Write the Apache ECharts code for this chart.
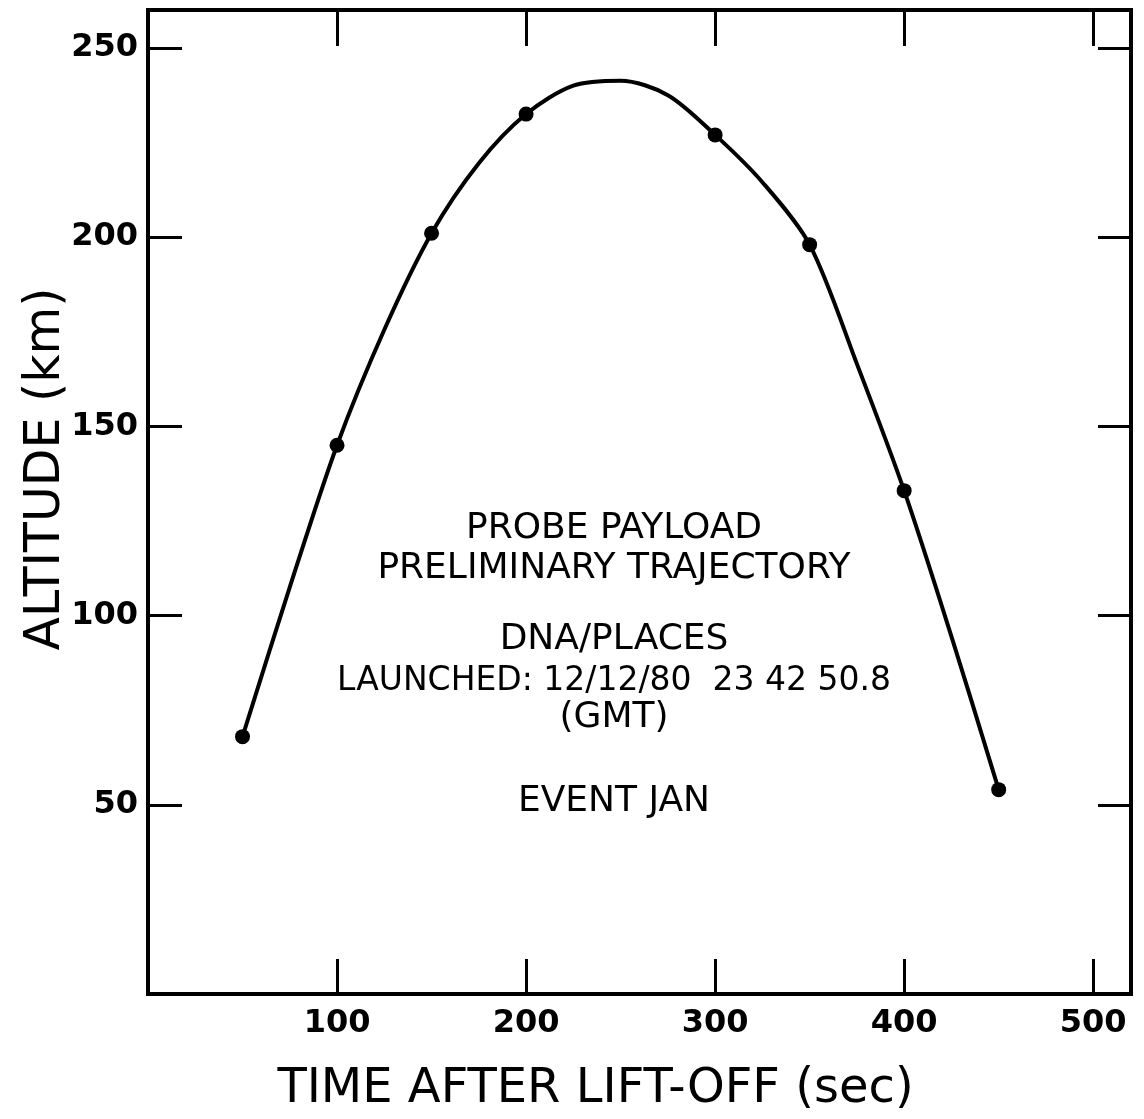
<!DOCTYPE html>
<html>
<head>
<meta charset="utf-8">
<script src="https://cdn.jsdelivr.net/npm/echarts@6/dist/echarts.min.js"></script>
<style>
  html, body { margin: 0; padding: 0; background: #fff; }
  #main { width: 1144px; height: 1119px; }
</style>
</head>
<body>
<div id="main"></div>
<script>
// measured points (sec, km)
const pointTimes = [50, 100, 150, 200, 300, 350, 400, 450];
const pointAltitudes = [68, 145, 201, 232.5, 227, 198, 133, 54];

// drawn trajectory curve
const curveTimes = [50, 75, 100, 125, 150, 175, 200, 225, 250, 275, 300, 325, 350, 375, 400, 425, 450];
const curveAltitudes = [68, 107.5, 145, 175.5, 201, 219.5, 232.5, 240, 241.3, 237.5, 227, 214.5, 198, 166.5, 133, 94.5, 54];

const xTicks = [100, 200, 300, 400, 500];
const yTicks = [50, 100, 150, 200, 250];

const noteLines = [
    "PROBE PAYLOAD",
    "PRELIMINARY TRAJECTORY",
    "DNA/PLACES",
    "LAUNCHED: 12/12/80  23 42 50.8",
    "(GMT)",
    "EVENT JAN"
];
const noteY = [529, 569, 640, 681, 718, 802];
const noteSize = [36, 36, 36, 33, 36, 36];

const FONT = '"DejaVu Sans", "Liberation Sans", sans-serif';

const chart = echarts.init(document.getElementById("main"));

const tick = (values, len) => ({
    show: true, inside: true, length: len, customValues: values,
    lineStyle: { color: "#000", width: 3 }
});
const noLine = { show: false, onZero: false };

const option = {
    backgroundColor: "#fff",
    animation: false,
    grid: {
        left: 148, top: 10, right: 13, bottom: 123,
        show: true, borderColor: "#000", borderWidth: 4
    },
    xAxis: [
        {
            type: "value", min: 0, max: 520, interval: 100, position: "bottom",
            name: "TIME AFTER LIFT-OFF (sec)", nameLocation: "middle", nameGap: 72, nameMoveOverlap: false,
            nameTextStyle: { fontFamily: FONT, fontSize: 48, color: "#000", padding: [0, 88, 0, 0] },
            axisLine: noLine,
            axisTick: tick(xTicks, 35),
            axisLabel: { customValues: xTicks, color: "#000", fontFamily: FONT, fontSize: 32, fontWeight: "bold", margin: 14 },
            splitLine: { show: false }
        },
        {
            type: "value", min: 0, max: 520, interval: 100, position: "top",
            axisLine: noLine,
            axisTick: tick(xTicks, 36),
            axisLabel: { show: false },
            splitLine: { show: false }
        }
    ],
    yAxis: [
        {
            type: "value", min: 0, max: 260, interval: 50, position: "left",
            name: "ALTITUDE (km)", nameLocation: "middle", nameGap: 77, nameMoveOverlap: false,
            nameTextStyle: { fontFamily: FONT, fontSize: 49, color: "#000", padding: [0, 0, 0, 66] },
            axisLine: noLine,
            axisTick: tick(yTicks, 34),
            axisLabel: { customValues: yTicks, color: "#000", fontFamily: FONT, fontSize: 32, fontWeight: "bold", margin: 10 },
            splitLine: { show: false }
        },
        {
            type: "value", min: 0, max: 260, interval: 50, position: "right",
            axisLine: noLine,
            axisTick: tick(yTicks, 33),
            axisLabel: { show: false },
            splitLine: { show: false }
        }
    ],
    series: [
        {
            name: "trajectory",
            type: "line",
            smooth: 0.3,
            symbol: "none",
            lineStyle: { color: "#000", width: 4 },
            data: curveTimes.map((t, i) => [t, curveAltitudes[i]]),
            z: 2
        },
        {
            name: "points",
            type: "scatter",
            symbol: "circle",
            symbolSize: 15,
            itemStyle: { color: "#000", opacity: 1 },
            data: pointTimes.map((t, i) => [t, pointAltitudes[i]]),
            z: 3
        }
    ],
    graphic: noteLines.map((txt, i) => ({
        type: "text",
        x: 614,
        y: noteY[i],
        style: {
            text: txt,
            fill: "#000",
            font: noteSize[i] + "px " + FONT,
            textAlign: "center",
            textVerticalAlign: "middle"
        }
    }))
};

chart.setOption(option);
</script>
</body>
</html>
